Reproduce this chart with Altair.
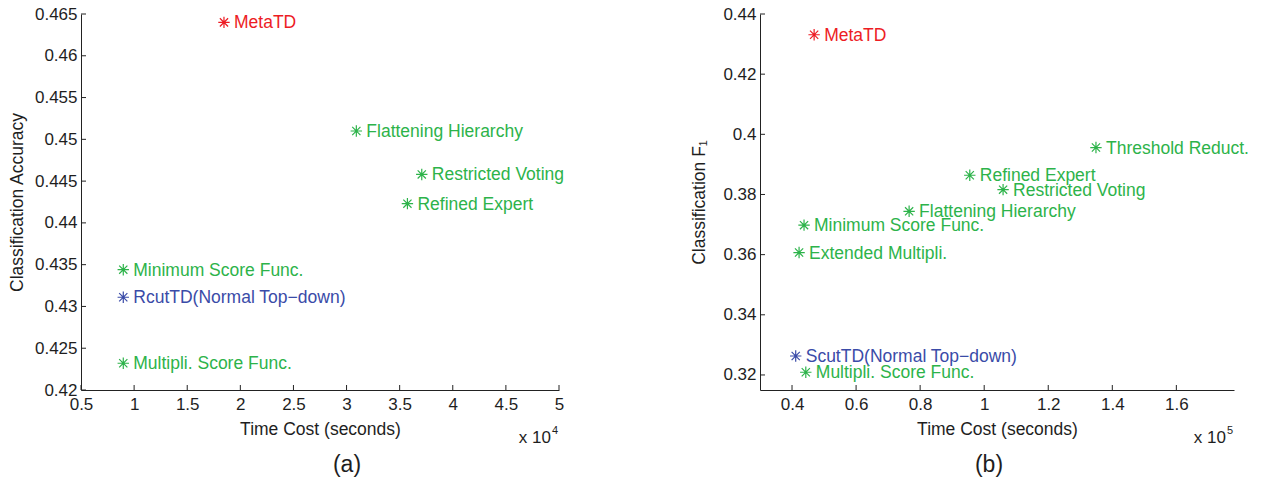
import altair as alt
import pandas as pd

# ---------------- Panel (a): accuracy vs time (x 10^4 s) ----------------
a_methods = ["MetaTD", "Flattening Hierarchy", "Restricted Voting", "Refined Expert",
             "Minimum Score Func.", "RcutTD(Normal Top\u2212down)", "Multipli. Score Func."]
a_time = [1.846, 3.092, 3.708, 3.573, 0.898, 0.898, 0.898]
a_acc = [0.4640, 0.4510, 0.4458, 0.4423, 0.4344, 0.4311, 0.4232]
a_group = ["MetaTD", "other", "other", "other", "other", "baseline", "other"]
a_xticks = [0.5, 1, 1.5, 2, 2.5, 3, 3.5, 4, 4.5, 5]
a_yticks = [0.42, 0.425, 0.43, 0.435, 0.44, 0.445, 0.45, 0.455, 0.46, 0.465]

# ---------------- Panel (b): F1 vs time (x 10^5 s) ----------------
b_methods = ["MetaTD", "Threshold Reduct.", "Refined Expert", "Restricted Voting",
             "Flattening Hierarchy", "Minimum Score Func.", "Extended Multipli.",
             "ScutTD(Normal Top\u2212down)", "Multipli. Score Func."]
b_time = [0.469, 1.349, 0.955, 1.059, 0.7656, 0.4375, 0.422, 0.4115, 0.443]
b_f1 = [0.4331, 0.3956, 0.3864, 0.3816, 0.3744, 0.3698, 0.3607, 0.3263, 0.3209]
b_group = ["MetaTD", "other", "other", "other", "other", "other", "other", "baseline", "other"]
b_xticks = [0.4, 0.6, 0.8, 1.0, 1.2, 1.4, 1.6]
b_yticks = [0.32, 0.34, 0.36, 0.38, 0.40, 0.42, 0.44]

FONT = "Liberation Sans"
TXT = "#1e1e1e"
H = 376
STAR = "M-1,0L1,0M0,-1L0,1M-0.72,-0.72L0.72,0.72M-0.72,0.72L0.72,-0.72"
color_scale = alt.Scale(domain=["MetaTD", "other", "baseline"],
                        range=["#ED1C24", "#2DB34A", "#3A4BA8"])


def panel(methods, xs, ys, groups, xticks, yticks, xdom, ydom, ytitle, ytpad, W, exp, tag, tag_dx):
    df = pd.DataFrame({"method": methods, "time": xs, "score": ys, "group": groups})
    xsc = alt.Scale(domain=xdom, nice=False, zero=False)
    ysc = alt.Scale(domain=ydom, nice=False, zero=False)
    xaxis = alt.Axis(values=xticks, format="~g", title="Time Cost (seconds)", ticks=False,
                     grid=False, labelPadding=6, titlePadding=8, labelFontSize=17,
                     titleFontSize=17.5, labelFont=FONT, titleFont=FONT, labelColor=TXT,
                     titleColor=TXT, titleFontWeight="normal", domainColor="#222222",
                     labelFlush=False, labelOverlap=False)
    yaxis = alt.Axis(values=yticks, format="~g", title=ytitle, ticks=False, grid=False,
                     labelPadding=4, titlePadding=ytpad, labelFontSize=17, titleFontSize=17.5,
                     labelFont=FONT, titleFont=FONT, labelColor=TXT, titleColor=TXT,
                     titleFontWeight="normal", domainColor="#222222", labelFlush=False,
                     labelOverlap=False)
    color = alt.Color("group:N", scale=color_scale, legend=None)
    stars = alt.Chart(df).mark_point(shape=STAR, size=130, filled=False, strokeWidth=1.2,
                                     opacity=1).encode(
        x=alt.X("time:Q", scale=xsc, axis=xaxis),
        y=alt.Y("score:Q", scale=ysc, axis=yaxis),
        color=color)
    labels = alt.Chart(df).mark_text(align="left", baseline="middle", dx=10, dy=1,
                                     fontSize=17.5, font=FONT).encode(
        x=alt.X("time:Q", scale=xsc),
        y=alt.Y("score:Q", scale=ysc),
        text="method:N", color=color)
    xt = alt.Chart(pd.DataFrame({"time": xticks})).mark_rule(color="#222222", strokeWidth=1).encode(
        x=alt.X("time:Q", scale=xsc), y=alt.value(H), y2=alt.value(H - 5))
    yt = alt.Chart(pd.DataFrame({"score": yticks})).mark_rule(color="#222222", strokeWidth=1).encode(
        y=alt.Y("score:Q", scale=ysc), x=alt.value(0), x2=alt.value(5))
    base_txt = alt.Chart(pd.DataFrame({"t": ["x 10"]})).mark_text(
        align="right", baseline="middle", fontSize=17, font=FONT, color=TXT).encode(
        text="t:N", x=alt.value(W - 8), y=alt.value(H + 48))
    exp_txt = alt.Chart(pd.DataFrame({"t": [exp]})).mark_text(
        align="left", baseline="middle", fontSize=11, font=FONT, color=TXT).encode(
        text="t:N", x=alt.value(W - 7), y=alt.value(H + 41))
    return alt.layer(stars, labels, xt, yt, base_txt, exp_txt).properties(
        width=W, height=H,
        title=alt.Title(tag, orient="bottom", fontSize=23, fontWeight="normal", font=FONT,
                        color=TXT, dx=tag_dx, offset=8, anchor="middle", frame="group"))


pa = panel(a_methods, a_time, a_acc, a_group, a_xticks, a_yticks, [0.5, 5], [0.42, 0.465],
           "Classification Accuracy", 8, 478, "4", "(a)", 27)
pb = panel(b_methods, b_time, b_f1, b_group, b_xticks, b_yticks, [0.3, 1.78], [0.315, 0.44],
           "Classification F\u2081", 14, 474, "5", "(b)", -8)

chart = alt.hconcat(pa, pb, spacing=201, bounds="flush").properties(
    padding={"left": 0, "top": -3, "right": 0, "bottom": 0}
).configure(background="white").configure_view(stroke=None)

chart.save("out.html", embed_options={"renderer": "svg", "actions": False})
